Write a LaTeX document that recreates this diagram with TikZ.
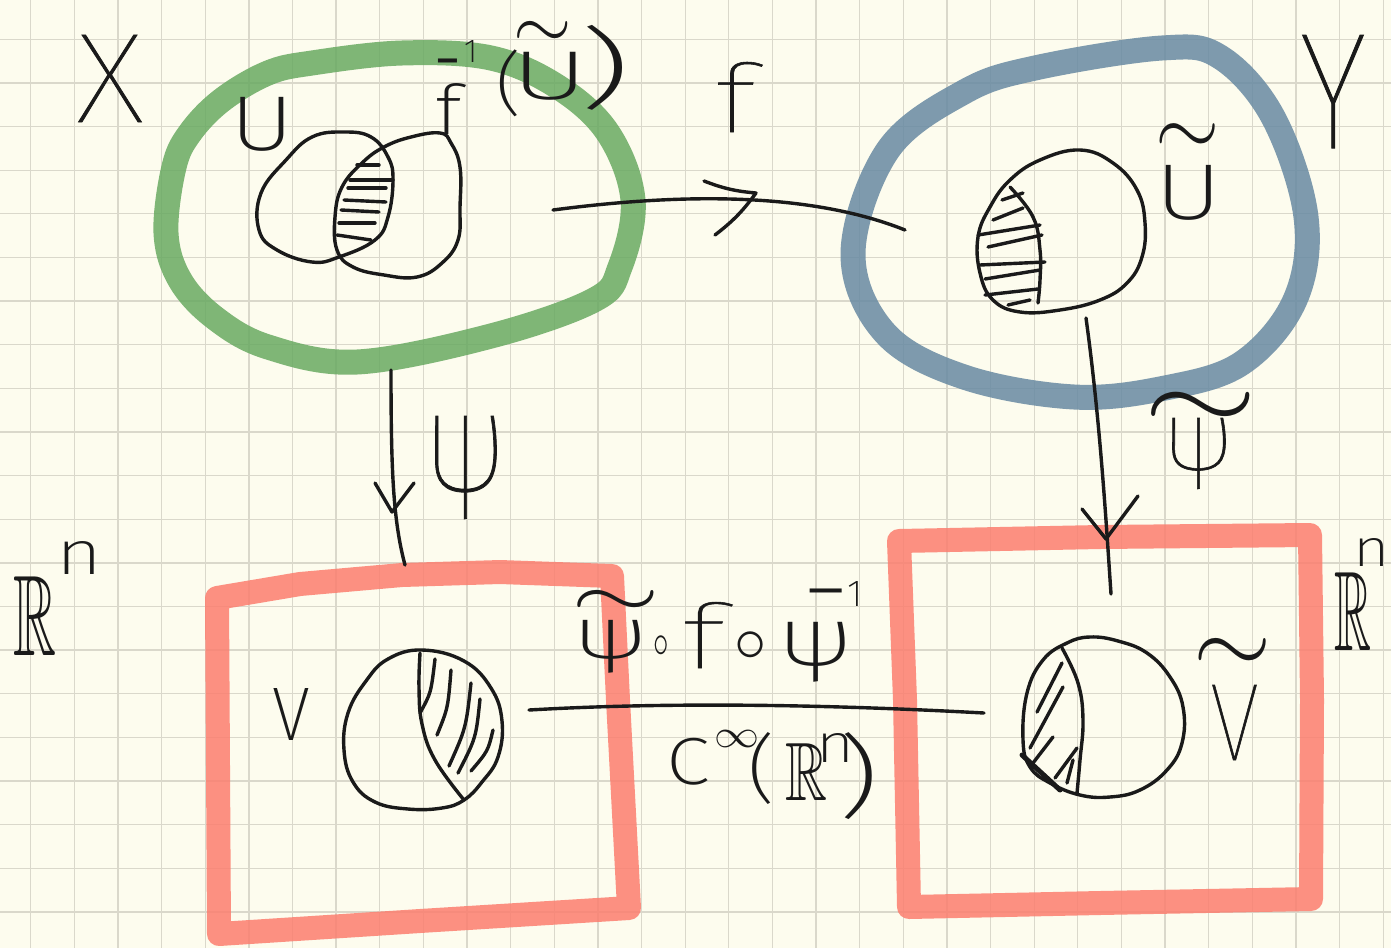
\documentclass[tikz,border=0pt]{standalone}
\usepackage{fontspec}
\usepackage{amssymb}
\usepackage{graphicx}
\newfontfamily\hand{Fira Sans ExtraLight}
\newfontfamily\handthin{Fira Sans Thin}[FakeBold=0.6]

\definecolor{paper}{RGB}{253,252,238}
\definecolor{gridline}{RGB}{218,216,203}
\definecolor{ink}{RGB}{26,26,26}
\definecolor{setX}{RGB}{105,170,98}
\definecolor{setY}{RGB}{104,138,162}
\definecolor{chart}{RGB}{252,126,111}

\newdimen\glx \newdimen\gly \newdimen\glw \newdimen\glh
\newdimen\gxa \newdimen\gxb \newdimen\gya \newdimen\gyb \newdimen\gtmp
\newcount\gid
\newsavebox\gbox

% origin of the label being set, in picture units
\def\ox{0}\def\oy{0}
\newcommand\org[2]{\def\ox{#1}\def\oy{#2}}

% one glyph stretched onto the box (left, top, right, bottom), picture units
\newcommand\gl[5]{\begingroup
  \glx=\dimexpr#1pt-\ox pt\relax
  \gly=\dimexpr\oy pt-#4pt\relax
  \glw=\dimexpr#3pt-#1pt\relax
  \glh=\dimexpr#4pt-#2pt\relax
  \makebox[0pt][l]{\kern\glx\raisebox{\gly}{\resizebox*{\glw}{\glh}{\raisebox{\depth}{#5}}}}%
  \endgroup}

% a box exactly as large as the inked part of one glyph of the current font
\newcommand\ink[1]{\begingroup
  \gid=\XeTeXcharglyph`#1\relax
  \sbox\gbox{#1}%
  \gxa=\XeTeXglyphbounds1 \gid
  \gxb=\XeTeXglyphbounds3 \gid
  \gyb=\XeTeXglyphbounds2 \gid
  \gya=\XeTeXglyphbounds4 \gid
  \sbox0{X}\gtmp=\XeTeXglyphbounds3 \XeTeXcharglyph`X\relax
  \ifdim\gtmp<0.5\wd0 \gxb=\dimexpr\wd\gbox-\gxb\relax\fi
  \gtmp=\XeTeXglyphbounds4 \XeTeXcharglyph`p\relax
  \ifdim\gtmp>0pt \gya=-\gya\fi
  \hbox to\dimexpr\gxb-\gxa\relax{\kern-\gxa\raisebox{-\gya}[\dimexpr\gyb-\gya\relax][0pt]{\usebox\gbox}\hss}%
  \endgroup}
% the same, in the thinner cut used for the large letters
\newcommand\thin[1]{{\handthin\ink{#1}}}

% crop a box to the given fractions of its width and height
\newcommand\cropm[5]{\begingroup\setbox0\hbox{#5}%
  \gxa=#1\wd0 \gxb=#3\wd0 \gya=#2\ht0 \gyb=#4\ht0
  \hbox to\dimexpr\gxb-\gxa\relax{\kern-\gxa\raisebox{-\gya}[\dimexpr\gyb-\gya\relax][0pt]{\box0}\hss}\endgroup}
\newcommand\tildeglyph{\cropm{0.072}{0.373}{0.928}{1}{$\sim$}}
\newcommand\circglyph{\cropm{0.112}{0.126}{0.888}{1}{$\circ$}}
\newcommand\inftyglyph{\cropm{0.056}{0}{0.944}{1}{$\infty$}}

\begin{document}
\begin{tikzpicture}[x=1pt,y=-1pt,
  pen/.style={draw=ink, line width=3.4pt, line cap=round, line join=round},
  marker/.style={line width=#1, line cap=round, line join=round, draw opacity=0.85},
  lab/.style={inner sep=0pt, outer sep=0pt, anchor=base west, text=ink,
              font=\hand\fontsize{60}{60}\selectfont}]

% paper and squared grid
\fill[paper] (0,0) rectangle (1391,948);
\useasboundingbox (0,0) rectangle (1391,948);
\foreach \k in {0,...,31} \draw[gridline, line width=1.3pt] ({30.7+43.63*\k},0) -- ++(0,948);
\foreach \k in {0,...,20} \draw[gridline, line width=1.3pt] (0,{39.3+43.63*\k}) -- ++(1391,0);

% the manifolds X and Y
\draw[marker=25pt, setX] plot[smooth cycle, tension=0.6] coordinates
  {(268,73) (312,63) (402,53) (491,58) (558,87) (608,133) (633,200) (620,267)
   (594,300) (491,336) (357,362) (268,347) (215,318) (180,280) (166,233)
   (174,167) (190,133) (222,100)};
\draw[marker=25pt, setY] plot[smooth cycle, tension=0.6] coordinates
  {(1162,48) (1220,57) (1273,117) (1306,217) (1295,300) (1242,363) (1165,388)
   (1074,397) (964,377) (885,333) (853,253) (888,150) (964,92) (1035,68)};

% the two copies of R^n
\draw[marker=24pt, chart] (217,598) -- (300,584) -- (402,575) -- (500,572) -- (612,576)
  -- (618,700) -- (629,908) -- (420,921) -- (219,934) -- cycle;
\draw[marker=24pt, chart] (899,541) -- (1100,537) -- (1310,535) -- (1312,700)
  -- (1311,899) -- (1100,903) -- (909,907) -- (905,700) -- cycle;

% U and f^{-1}(U~) inside X, with their overlap hatched
\draw[pen] plot[smooth cycle, tension=0.7] coordinates
  {(344,132) (371,137) (388,157) (393,180) (388,217) (375,240) (339,257) (312,262)
   (277,250) (259,230) (261,193) (286,160) (312,137)};
\draw[pen] plot[smooth cycle, tension=0.7] coordinates
  {(440,133) (451,143) (460,167) (460,207) (458,240) (442,263) (417,277) (384,275)
   (353,267) (337,250) (335,217) (342,187) (362,163) (384,147) (411,137)};
\foreach \a/\b/\c/\d in {357/165/379/165, 350/180/393/180, 348/188/386/188,
    344/200/386/202, 341/210/379/212, 339/223/375/223, 337/235/371/240}
  \draw[pen] (\a,\b) -- (\c,\d);

% U~ inside Y
\draw[pen] plot[smooth cycle, tension=0.7] coordinates
  {(1080,150) (1113,163) (1137,190) (1145,223) (1142,257) (1127,283) (1100,300)
   (1060,310) (1020,312) (993,300) (980,273) (978,237) (990,207) (1010,180) (1040,160)};
\draw[pen] plot[smooth, tension=0.7] coordinates
  {(1010,187) (1033,217) (1040,250) (1040,280) (1038,303)};
\foreach \a/\b/\c/\d in {1002/200/1023/193, 993/220/1023/208, 978/235/1040/225,
    988/247/1042/235, 980/265/1045/262, 985/279/1040/270, 985/295/1038/289,
    1008/305/1030/300}
  \draw[pen] (\a,\b) -- (\c,\d);

% V inside the left R^n
\draw[pen] plot[smooth cycle, tension=0.7] coordinates
  {(422,650) (464,661) (491,688) (502,721) (498,757) (482,782) (464,800) (442,808)
   (408,809) (375,802) (353,782) (344,750) (348,713) (366,681) (388,659)};
\draw[pen] plot[smooth, tension=0.7] coordinates
  {(420,653) (419,688) (422,724) (435,760) (464,800)};
\draw[pen] (420,713) .. controls (431,693) .. (435,659);
\draw[pen] (437,735) .. controls (448,708) .. (451,670);
\draw[pen] (449,766) .. controls (466,728) .. (471,683);
\draw[pen] (458,773) .. controls (476,738) .. (480,699);
\draw[pen] (471,771) .. controls (488,751) .. (493,730);

% V~ inside the right R^n
\draw[pen] plot[smooth cycle, tension=0.7] coordinates
  {(1090,637) (1118,641) (1147,653) (1170,677) (1183,707) (1182,743) (1167,770)
   (1140,790) (1110,797) (1080,795) (1050,783) (1030,767) (1023,740) (1027,693)
   (1043,660) (1067,643)};
\draw[pen] plot[smooth, tension=0.7] coordinates
  {(1062,648) (1078,683) (1083,720) (1080,760) (1077,793)};
\foreach \a/\b/\c/\d in {1037/712/1062/663, 1030/748/1063/687, 1033/763/1053/737,
    1055/778/1077/748, 1067/783/1073/760}
  \draw[pen] (\a,\b) -- (\c,\d);
\draw[pen, line width=5pt] (1022,755) -- (1060,790);

% maps between the pieces
\coordinate (fA) at (553,210);  \coordinate (fB) at (905,230);  \coordinate (fTip) at (756,193);
\draw[pen] (fA) .. controls (660,196) and (800,188) .. (fB);
\draw[pen] (fTip) ++(-52,-12) to[bend right=8] (fTip) to[bend left=8] ++(-41,42);

\coordinate (pA) at (391,370);  \coordinate (pB) at (405,565);  \coordinate (pTip) at (392,512);
\draw[pen] (pA) .. controls (391,470) and (393,520) .. (pB);
\draw[pen] (pTip) ++(-17,-29) -- (pTip) -- ++(22,-29);

\coordinate (qA) at (1086,318); \coordinate (qB) at (1111,594); \coordinate (qTip) at (1106,539);
\draw[pen] (qA) .. controls (1100,420) and (1106,520) .. (qB);
\draw[pen] (qTip) ++(-24,-30) -- (qTip) -- ++(32,-43);

\coordinate (hA) at (529,710);  \coordinate (hB) at (984,713);
\draw[pen] (hA) .. controls (650,703) and (800,703) .. (hB);

% handwritten labels
\node[lab] (lblX) at (78,122) {\org{78}{122}\gl{78}{35}{141}{122}{\thin{X}}};
\node[lab] (lblU) at (240,151) {\org{240}{151}\gl{240}{97}{283}{151}{\ink{U}}};
\node[lab] (lblFinv) at (437,134) {\org{437}{134}%
  \gl{437}{83}{466}{134}{\ink{f}}\gl{438}{59}{457}{63}{\ink{−}}\gl{465}{40}{473}{62}{\ink{1}}%
  \gl{500}{50}{517}{117}{\ink{(}}\gl{517}{21}{567}{38}{\tildeglyph}%
  \gl{523}{52}{575}{100}{\ink{U}}\gl{587}{25}{622}{110}{\ink{)}}};
\node[lab] (lblf) at (718,132) {\org{718}{132}\gl{718}{62}{762}{132}{\thin{f}}};
\node[lab] (lblY) at (1302,148) {\org{1302}{148}\gl{1302}{35}{1363}{148}{\thin{Y}}};
\node[lab] (lblUt) at (1160,220) {\org{1160}{220}%
  \gl{1160}{124}{1215}{144}{\tildeglyph}\gl{1166}{165}{1211}{220}{\ink{U}}};
\node[lab] (lblpsi) at (435,519) {\org{435}{519}\gl{435}{416}{496}{519}{\thin{ψ}}};
\node[lab] (lblRnL) at (13,655) {\org{13}{655}%
  \gl{13}{576}{56}{655}{$\mathbb{R}$}\gl{65}{541}{94}{574}{\ink{n}}};
\node[lab] (lblV) at (273,740) {\org{273}{740}\gl{273}{688}{308}{740}{\ink{V}}};
\node[lab] (lblmap) at (577,683) {\org{577}{683}%
  \gl{577}{590}{653}{607}{\tildeglyph}\gl{583}{620}{640}{673}{\ink{ψ}}%
  \gl{655}{636}{667}{655}{\circglyph}\gl{685}{602}{732}{668}{\thin{f}}%
  \gl{738}{632}{763}{658}{\circglyph}\gl{788}{622}{845}{682}{\ink{ψ}}%
  \gl{810}{589}{842}{593}{\ink{−}}\gl{849}{581}{858}{606}{\ink{1}}};
\node[lab] (lblCinf) at (672,820) {\org{672}{820}%
  \gl{672}{738}{708}{785}{\ink{C}}\gl{717}{730}{757}{747}{\inftyglyph}%
  \gl{752}{733}{770}{805}{\ink{(}}\gl{785}{743}{827}{800}{$\mathbb{R}$}%
  \gl{823}{733}{847}{762}{\ink{n}}\gl{845}{733}{872}{820}{\ink{)}}};
\node[lab] (lblpsit) at (1151,489) {\org{1151}{489}%
  \gl{1151}{392}{1249}{416}{\tildeglyph}\gl{1172}{418}{1225}{489}{\thin{ψ}}};
\node[lab] (lblRnR) at (1334,650) {\org{1334}{650}%
  \gl{1334}{572}{1371}{650}{$\mathbb{R}$}\gl{1360}{538}{1383}{566}{\ink{n}}};
\node[lab] (lblVt) at (1199,760) {\org{1199}{760}%
  \gl{1199}{638}{1266}{660}{\tildeglyph}\gl{1212}{685}{1256}{760}{\thin{V}}};
\end{tikzpicture}
\end{document}
